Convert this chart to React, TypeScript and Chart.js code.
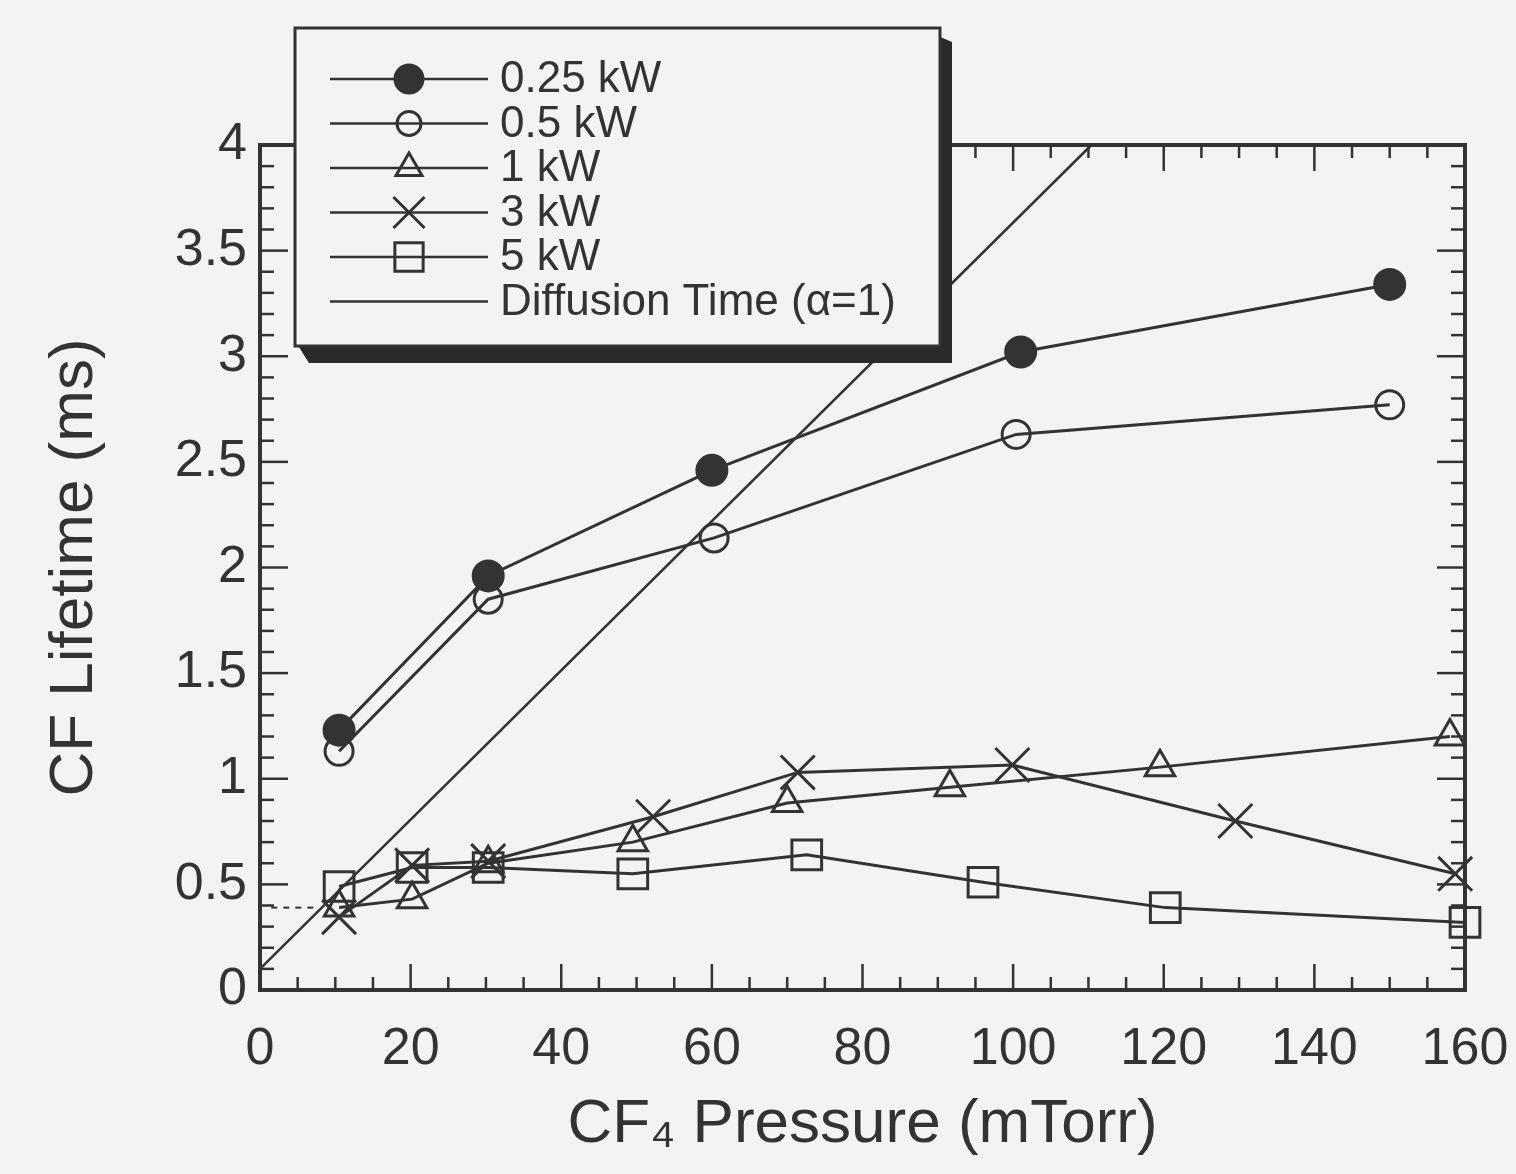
import React, { useEffect, useRef } from 'react';
import { Chart, registerables } from 'chart.js';
import { drawPoint } from 'chart.js/helpers';

Chart.register(...registerables);

const BG = '#f4f3f2';
const INK = '#333333';
const FONT = "'Liberation Sans', Arial, Helvetica, sans-serif";

// ---- data ----
const seriesLabels = ['0.25 kW', '0.5 kW', '1 kW', '3 kW', '5 kW', 'Diffusion Time (\u03B1=1)'];

const pressure025 = [10.5, 30.3, 60, 101, 150];
const lifetime025 = [1.23, 1.96, 2.46, 3.02, 3.34];

const pressure05 = [10.5, 30.3, 60.3, 100.4, 150];
const lifetime05 = [1.13, 1.85, 2.14, 2.63, 2.77];

const pressure1 = [10.5, 20.2, 30.3, 49.5, 70, 91.6, 119.5, 158];
const lifetime1 = [0.39, 0.43, 0.6, 0.7, 0.885, 0.96, 1.055, 1.2];

const pressure3 = [10.5, 20.2, 30.3, 52.2, 71.4, 99.9, 129.5, 158.7];
const lifetime3 = [0.345, 0.59, 0.61, 0.82, 1.03, 1.065, 0.8, 0.55];

const pressure5 = [10.5, 20.2, 30.3, 49.5, 72.6, 96, 120.2, 160];
const lifetime5 = [0.49, 0.58, 0.58, 0.55, 0.64, 0.51, 0.39, 0.32];

const diffusionPressure = [0, 110.4];
const diffusionLifetime = [0.1, 4];

const guidePressure = [1.5, 7.5];
const guideLifetime = [0.39, 0.39];

const xTickValues = [0, 20, 40, 60, 80, 100, 120, 140, 160];
const yTickValues = [0, 0.5, 1, 1.5, 2, 2.5, 3, 3.5, 4];

const pts = (xs: number[], ys: number[]) => xs.map((x, i) => ({ x, y: ys[i] }));

const backgroundPlugin = {
  id: 'bg',
  beforeDraw(chart: any) {
    const { ctx, width, height } = chart;
    ctx.save();
    ctx.fillStyle = BG;
    ctx.fillRect(0, 0, width, height);
    ctx.restore();
  },
};

const framePlugin = {
  id: 'frame',
  beforeDatasetsDraw(chart: any) {
    const { ctx, chartArea: a, scales } = chart;
    const x = scales.x;
    const y = scales.y;
    const seg = (x1: number, y1: number, x2: number, y2: number) => {
      ctx.beginPath();
      ctx.moveTo(x1, y1);
      ctx.lineTo(x2, y2);
      ctx.stroke();
    };
    ctx.save();
    ctx.strokeStyle = INK;
    ctx.lineWidth = 2.5;
    for (let k = 0; k <= 32; k++) {
      const v = k * 5;
      const px = x.getPixelForValue(v);
      const len = v % 20 === 0 ? 26 : 13;
      seg(px, a.bottom, px, a.bottom - len);
      seg(px, a.top, px, a.top + len);
    }
    for (let k = 0; k <= 40; k++) {
      const py = y.getPixelForValue(k / 10);
      const len = k % 5 === 0 ? 28 : 14;
      seg(a.left, py, a.left + len, py);
      seg(a.right, py, a.right - len, py);
    }
    ctx.lineWidth = 4;
    ctx.strokeRect(a.left, a.top, a.right - a.left, a.bottom - a.top);
    ctx.restore();
  },
};

const legendPlugin = {
  id: 'boxLegend',
  afterDraw(chart: any) {
    const ctx = chart.ctx;
    const L = 287, T = 20, R = 932, B = 338;
    ctx.save();
    // shadow
    ctx.fillStyle = '#2a2a2a';
    ctx.beginPath();
    ctx.moveTo(R - 2, T + 8);
    ctx.lineTo(R + 12, T + 14);
    ctx.lineTo(R + 12, B + 17);
    ctx.lineTo(L + 14, B + 17);
    ctx.lineTo(L + 2, B - 2);
    ctx.closePath();
    ctx.fill();
    // box
    ctx.fillStyle = BG;
    ctx.fillRect(L, T, R - L, B - T);
    ctx.strokeStyle = INK;
    ctx.lineWidth = 3;
    ctx.strokeRect(L, T, R - L, B - T);

    const datasets = chart.data.datasets.filter((d: any) => d.inLegend);
    datasets.forEach((d: any, i: number) => {
      const yy = 71 + i * 44.5;
      ctx.strokeStyle = INK;
      ctx.lineWidth = 2.5;
      ctx.beginPath();
      ctx.moveTo(322, yy);
      ctx.lineTo(480, yy);
      ctx.stroke();
      if (d.pointRadius > 0) {
        ctx.fillStyle = d.pointBackgroundColor;
        ctx.strokeStyle = INK;
        ctx.lineWidth = 3;
        drawPoint(ctx, { pointStyle: d.pointStyle, radius: d.legendRadius, borderWidth: 3, rotation: 0 } as any, 401, yy);
      }
      ctx.fillStyle = INK;
      ctx.font = `44px ${FONT}`;
      ctx.textAlign = 'left';
      ctx.textBaseline = 'middle';
      ctx.fillText(d.label, 492, yy + 1);
    });
    ctx.restore();
  },
};

function series(label: string, xs: number[], ys: number[], style: string, radius: number, legendRadius: number, fill: string) {
  return {
    label,
    data: pts(xs, ys),
    borderColor: INK,
    borderWidth: 3,
    pointStyle: style,
    pointRadius: radius,
    legendRadius,
    pointBorderWidth: 3,
    pointBorderColor: INK,
    pointBackgroundColor: fill,
    pointHoverRadius: radius,
    tension: 0,
    clip: false,
    inLegend: true,
  };
}

export default function App() {
  const ref = useRef<HTMLCanvasElement | null>(null);

  useEffect(() => {
    const prevBg = document.body.style.background;
    document.body.style.background = BG;
    Chart.defaults.font.family = FONT;
    const chart = new Chart(ref.current as HTMLCanvasElement, {
      type: 'line',
      data: {
        datasets: [
          series(seriesLabels[0], pressure025, lifetime025, 'circle', 15, 14, INK),
          series(seriesLabels[1], pressure05, lifetime05, 'circle', 14, 12, 'rgba(0,0,0,0)'),
          series(seriesLabels[2], pressure1, lifetime1, 'triangle', 17, 15, 'rgba(0,0,0,0)'),
          series(seriesLabels[3], pressure3, lifetime3, 'crossRot', 24, 22, 'rgba(0,0,0,0)'),
          series(seriesLabels[4], pressure5, lifetime5, 'rect', 21, 20, 'rgba(0,0,0,0)'),
          {
            ...series(seriesLabels[5], diffusionPressure, diffusionLifetime, 'circle', 0, 0, INK),
            borderWidth: 2.5,
          },
          {
            label: '',
            data: pts(guidePressure, guideLifetime),
            borderColor: INK,
            borderWidth: 2,
            borderDash: [6, 6],
            pointRadius: 0,
            clip: false,
            inLegend: false,
          },
        ] as any,
      },
      options: {
        animation: false,
        responsive: true,
        maintainAspectRatio: false,
        layout: { padding: { top: 137, right: 43, left: 0, bottom: 0 } },
        plugins: { legend: { display: false }, tooltip: { enabled: false }, title: { display: false } },
        scales: {
          x: {
            type: 'linear',
            min: 0,
            max: 160,
            afterBuildTicks: (s: any) => {
              s.ticks = xTickValues.map((v) => ({ value: v }));
            },
            afterFit: (s: any) => {
              s.height = 176;
              s.paddingLeft = 0;
              s.paddingRight = 0;
            },
            ticks: {
              font: { size: 52, family: FONT },
              color: INK,
              padding: 28,
              maxRotation: 0,
              autoSkip: false,
              callback: (v: any) => String(v),
            },
            grid: { display: false, drawTicks: false },
            border: { display: false },
            title: {
              display: true,
              text: 'CF\u2084 Pressure (mTorr)',
              font: { size: 62, family: FONT },
              color: INK,
              padding: { top: 0, bottom: 4 },
            },
          },
          y: {
            type: 'linear',
            min: 0,
            max: 4,
            afterBuildTicks: (s: any) => {
              s.ticks = yTickValues.map((v) => ({ value: v }));
            },
            afterFit: (s: any) => {
              s.width = 252;
              s.paddingTop = 0;
              s.paddingBottom = 0;
            },
            ticks: {
              font: { size: 52, family: FONT },
              color: INK,
              padding: 13,
              autoSkip: false,
              callback: (v: any) => String(v),
            },
            grid: { display: false, drawTicks: false },
            border: { display: false },
            title: {
              display: true,
              text: 'CF Lifetime (ms)',
              font: { size: 62, family: FONT },
              color: INK,
              padding: { top: 30, bottom: 0 },
            },
          },
        },
      } as any,
      plugins: [backgroundPlugin, framePlugin, legendPlugin],
    });
    return () => {
      chart.destroy();
      document.body.style.background = prevBg;
    };
  }, []);

  return (
    <div style={{ width: 1500, height: 1158, position: 'relative' }}>
      <canvas ref={ref} />
    </div>
  );
}
